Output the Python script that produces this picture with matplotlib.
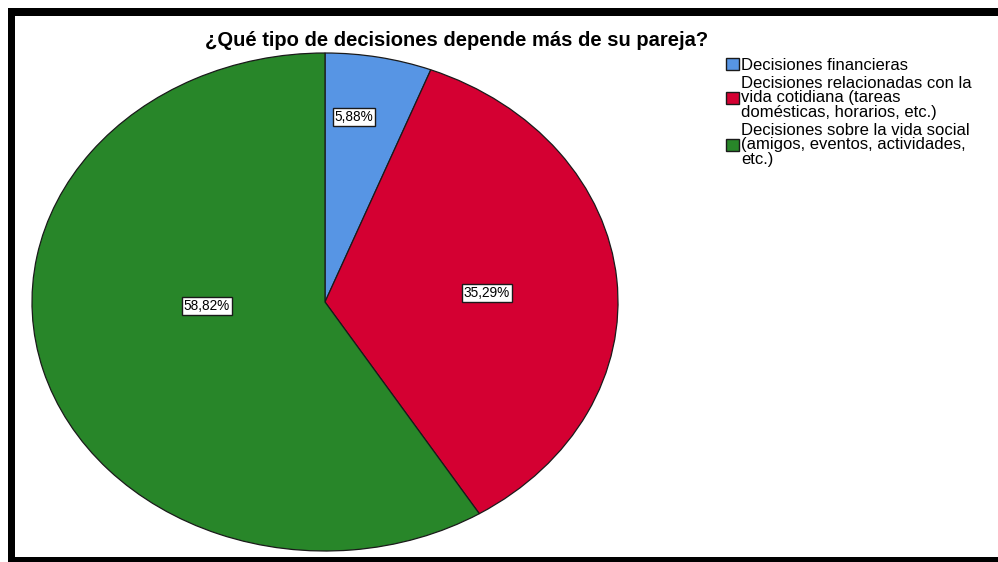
import matplotlib
matplotlib.use("Agg")
import matplotlib.pyplot as plt
from matplotlib.patches import Rectangle

plt.rcParams['font.family'] = ['Liberation Sans', 'DejaVu Sans']

categories = ["Decisiones financieras",
              "Decisiones relacionadas con la\nvida cotidiana (tareas\ndomésticas, horarios, etc.)",
              "Decisiones sobre la vida social\n(amigos, eventos, actividades,\netc.)"]
values = [5.88, 35.29, 58.82]
pct_labels = ["5,88%", "35,29%", "58,82%"]
colors = ["#5795E4", "#D40032", "#288629"]
title = "¿Qué tipo de decisiones depende más de su pareja?"

W, H = 998, 562
fig = plt.figure(figsize=(W / 100, H / 100), dpi=100)

# black frame (open on the right)
fig.patches.append(Rectangle((8 / W, 0), 1.2, (H - 8) / H, transform=fig.transFigure,
                             facecolor="black", edgecolor="none", zorder=-10))
fig.patches.append(Rectangle((15 / W, 5 / H), 1.2, (H - 16 - 5) / H, transform=fig.transFigure,
                             facecolor="white", edgecolor="none", zorder=-9))

ax = fig.add_axes([32 / W, 11 / H, 586 / W, 498 / H])
ax.patch.set_alpha(0)
wedges, _ = ax.pie(values, colors=colors, startangle=90, counterclock=False, radius=1,
                   wedgeprops=dict(edgecolor="#1a1a1a", linewidth=0.9))
ax.set_aspect("auto")
ax.set_xlim(-1.0, 1.0)
ax.set_ylim(-1.0, 1.0)

label_pos = [(0.099, 0.743), (0.553, 0.036), (-0.403, -0.016)]
for (x, y), lab in zip(label_pos, pct_labels):
    ax.text(x, y, lab, ha="center", va="center", fontsize=9.8,
            bbox=dict(boxstyle="square,pad=0.15", facecolor="white", edgecolor="#1a1a1a", linewidth=1))

fig.text(457 / W, 1 - 40 / H, title, ha="center", va="center", fontsize=14.5, fontweight="bold")

leg = fig.legend(wedges, categories, loc="upper left", bbox_to_anchor=(726 / W, 1 - 58 / H),
                 frameon=False, fontsize=12, handlelength=0.75, handleheight=0.7,
                 handletextpad=0.15, labelspacing=0.15, borderpad=0, borderaxespad=0)
for t in leg.get_texts():
    t.set_linespacing(0.98)
for h in leg.legend_handles:
    h.set_edgecolor("#1a1a1a")
    h.set_linewidth(1)

fig.savefig("out.png", dpi=100)
